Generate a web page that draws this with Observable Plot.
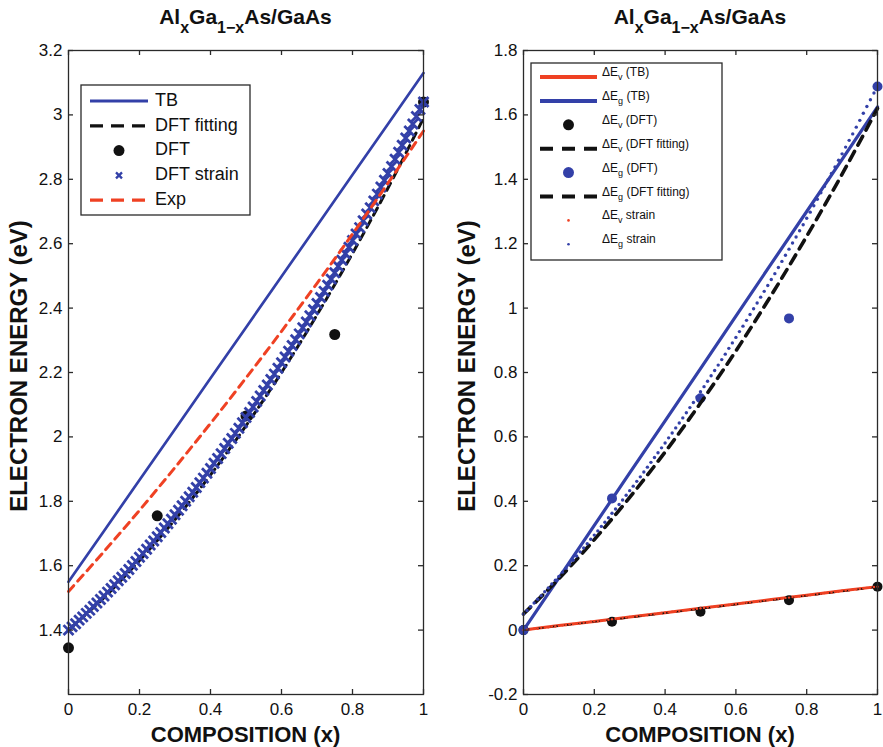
<!DOCTYPE html>
<html>
<head>
<meta charset="utf-8">
<script src="https://cdn.jsdelivr.net/npm/d3@7"></script>
<script src="https://cdn.jsdelivr.net/npm/@observablehq/plot@0.6"></script>
<style>
  body { margin: 0; background: #fff; }
  #wrap { display: flex; width: 883px; height: 747px; overflow: hidden; }
  svg { display: block; }
</style>
</head>
<body>
<div id="wrap"></div>
<script>
// ---------- composition grids ----------
const compCoarse = [0, 0.1, 0.2, 0.3, 0.4, 0.5, 0.6, 0.7, 0.8, 0.9, 1];
const compDFT = [0, 0.25, 0.5, 0.75, 1];
const compFine = d3.range(101).map(i => i / 100);

// ---------- left panel: band gap of AlxGa1-xAs (eV) ----------
const gapTB     = [1.550, 1.708, 1.866, 2.024, 2.182, 2.340, 2.498, 2.656, 2.814, 2.972, 3.130];
const gapDFTFit = [1.400, 1.501, 1.616, 1.743, 1.882, 2.035, 2.200, 2.379, 2.570, 2.773, 2.990];
const gapExp    = [1.520, 1.644, 1.772, 1.905, 2.042, 2.183, 2.328, 2.477, 2.630, 2.788, 2.950];
const gapDFT    = [1.345, 1.755, 2.065, 2.318, 3.040];
const gapStrain = [
  1.400, 1.410, 1.420, 1.431, 1.441, 1.452, 1.462, 1.473, 1.484, 1.495,
  1.506, 1.518, 1.529, 1.541, 1.553, 1.564, 1.576, 1.588, 1.601, 1.613,
  1.626, 1.638, 1.651, 1.664, 1.677, 1.690, 1.703, 1.717, 1.730, 1.744,
  1.758, 1.772, 1.786, 1.800, 1.814, 1.828, 1.843, 1.858, 1.872, 1.887,
  1.902, 1.918, 1.933, 1.948, 1.964, 1.980, 1.995, 2.011, 2.027, 2.044,
  2.060, 2.076, 2.093, 2.110, 2.127, 2.144, 2.161, 2.178, 2.195, 2.213,
  2.230, 2.248, 2.266, 2.284, 2.302, 2.320, 2.339, 2.357, 2.376, 2.395,
  2.414, 2.433, 2.452, 2.471, 2.490, 2.510, 2.530, 2.549, 2.569, 2.589,
  2.610, 2.630, 2.650, 2.671, 2.692, 2.712, 2.733, 2.754, 2.776, 2.797,
  2.818, 2.840, 2.862, 2.884, 2.906, 2.928, 2.950, 2.972, 2.995, 3.017,
  3.040
];

// ---------- right panel: band offsets (eV) ----------
const dEvTB  = [0, 0.014, 0.027, 0.041, 0.054, 0.068, 0.081, 0.095, 0.108, 0.122, 0.135];
const dEgTB  = [0, 0.162, 0.325, 0.488, 0.650, 0.812, 0.975, 1.138, 1.300, 1.462, 1.625];
const dEvFit = [0, 0.013, 0.026, 0.039, 0.053, 0.066, 0.080, 0.093, 0.107, 0.120, 0.134];
const dEgFit = [0.050, 0.160, 0.281, 0.412, 0.553, 0.705, 0.867, 1.040, 1.223, 1.416, 1.620];
const dEvDFT = [0, 0.026, 0.057, 0.093, 0.135];
const dEgDFT = [0, 0.409, 0.720, 0.968, 1.688];
const dEvStrain = [
  0.000, 0.001, 0.003, 0.004, 0.005, 0.007, 0.008, 0.009, 0.011, 0.012,
  0.014, 0.015, 0.016, 0.018, 0.019, 0.020, 0.022, 0.023, 0.024, 0.026,
  0.027, 0.028, 0.030, 0.031, 0.032, 0.034, 0.035, 0.036, 0.038, 0.039,
  0.041, 0.042, 0.043, 0.045, 0.046, 0.047, 0.049, 0.050, 0.051, 0.053,
  0.054, 0.055, 0.057, 0.058, 0.059, 0.061, 0.062, 0.063, 0.065, 0.066,
  0.068, 0.069, 0.070, 0.072, 0.073, 0.074, 0.076, 0.077, 0.078, 0.080,
  0.081, 0.082, 0.084, 0.085, 0.086, 0.088, 0.089, 0.090, 0.092, 0.093,
  0.095, 0.096, 0.097, 0.099, 0.100, 0.101, 0.103, 0.104, 0.105, 0.107,
  0.108, 0.109, 0.111, 0.112, 0.113, 0.115, 0.116, 0.117, 0.119, 0.120,
  0.122, 0.123, 0.124, 0.126, 0.127, 0.128, 0.130, 0.131, 0.132, 0.134,
  0.135
];
const dEgStrain = [
  0.050, 0.061, 0.073, 0.084, 0.096, 0.107, 0.119, 0.131, 0.143, 0.155,
  0.167, 0.180, 0.192, 0.204, 0.217, 0.230, 0.243, 0.255, 0.268, 0.282,
  0.295, 0.308, 0.322, 0.335, 0.349, 0.363, 0.376, 0.390, 0.404, 0.419,
  0.433, 0.447, 0.462, 0.476, 0.491, 0.506, 0.521, 0.536, 0.551, 0.566,
  0.581, 0.597, 0.612, 0.628, 0.643, 0.659, 0.675, 0.691, 0.707, 0.724,
  0.740, 0.756, 0.773, 0.790, 0.806, 0.823, 0.840, 0.857, 0.875, 0.892,
  0.909, 0.927, 0.944, 0.962, 0.980, 0.998, 1.016, 1.034, 1.052, 1.070,
  1.089, 1.107, 1.126, 1.145, 1.164, 1.183, 1.202, 1.221, 1.240, 1.259,
  1.279, 1.298, 1.318, 1.338, 1.358, 1.378, 1.398, 1.418, 1.438, 1.459,
  1.479, 1.500, 1.521, 1.541, 1.562, 1.583, 1.605, 1.626, 1.647, 1.668,
  1.690
];

// ---------- ticks ----------
const ticksX      = [0, 0.2, 0.4, 0.6, 0.8, 1];
const ticksYLeft  = [1.4, 1.6, 1.8, 2, 2.2, 2.4, 2.6, 2.8, 3, 3.2];
const ticksYRight = [-0.2, 0, 0.2, 0.4, 0.6, 0.8, 1, 1.2, 1.4, 1.6, 1.8];

// ---------- styling ----------
const BLUE = "#3340a8";
const RED = "#ef4123";
const BLACK = "#111";
const AXIS = "#2a2a2a";
const FONT = "'Liberation Sans', Arial, Helvetica, sans-serif";
const HEIGHT = 747, M_TOP = 50, M_BOTTOM = 53, TICK = 5;
const fmt = d => String(+d.toFixed(1));

const coarseRows = col => compCoarse.map((x, i) => ({x, y: col[i]}));
const zip = (xs, ys) => xs.map((x, i) => ({x, y: ys[i]}));

// boxed axes with short inward ticks on all four sides
function axes(yTicks, innerW) {
  const innerH = HEIGHT - M_TOP - M_BOTTOM;
  return [
    Plot.axisX(ticksX, {anchor: "bottom", tickSize: 0, tickPadding: 8, tickFormat: fmt, label: null, fontSize: 17}),
    Plot.axisY(yTicks, {anchor: "left", tickSize: 0, tickPadding: 6, tickFormat: fmt, label: null, fontSize: 17}),
    Plot.tickX(ticksX, {x: d => d, insetTop: innerH - TICK, stroke: AXIS, strokeWidth: 1.3}),
    Plot.tickX(ticksX, {x: d => d, insetBottom: innerH - TICK, stroke: AXIS, strokeWidth: 1.3}),
    Plot.tickY(yTicks, {y: d => d, insetRight: innerW - TICK, stroke: AXIS, strokeWidth: 1.3}),
    Plot.tickY(yTicks, {y: d => d, insetLeft: innerW - TICK, stroke: AXIS, strokeWidth: 1.3}),
    Plot.frame({stroke: AXIS, strokeWidth: 1.3})
  ];
}

function makePanel({width, marginLeft, marginRight, yDomain, yTicks, marks}) {
  return Plot.plot({
    width, height: HEIGHT,
    marginTop: M_TOP, marginBottom: M_BOTTOM, marginLeft, marginRight,
    x: {domain: [0, 1]},
    y: {domain: yDomain},
    style: {fontFamily: FONT, fontSize: "17px", color: "#111", background: "#fff", overflow: "visible"},
    marks: [...marks, ...axes(yTicks, width - marginLeft - marginRight)]
  });
}

// title with subscripts, axis labels
function decorate(svg, cx, cy, ylabelX) {
  const s = d3.select(svg);
  const t = s.append("text").attr("x", cx).attr("y", 24).attr("text-anchor", "middle")
    .attr("font-family", FONT).attr("font-weight", "bold").attr("font-size", 21).attr("fill", "#111");
  t.append("tspan").text("Al");
  t.append("tspan").attr("dy", 9).attr("font-size", 16).text("x");
  t.append("tspan").attr("dy", -9).text("Ga");
  t.append("tspan").attr("dy", 9).attr("font-size", 16).text("1\u2212x");
  t.append("tspan").attr("dy", -9).text("As/GaAs");
  s.append("text").attr("x", cx).attr("y", 742).attr("text-anchor", "middle")
    .attr("font-family", FONT).attr("font-weight", "bold").attr("font-size", 22).attr("fill", "#111")
    .text("COMPOSITION (x)");
  s.append("text").attr("transform", `translate(${ylabelX},${cy}) rotate(-90)`)
    .attr("text-anchor", "middle").attr("dominant-baseline", "middle")
    .attr("font-family", FONT).attr("font-weight", "bold").attr("font-size", 24).attr("fill", "#111")
    .text("ELECTRON ENERGY (eV)");
}

// ---------- left panel ----------
const left = makePanel({
  width: 441, marginLeft: 68, marginRight: 18,
  yDomain: [1.2, 3.2], yTicks: ticksYLeft,
  marks: [
    Plot.line(coarseRows(gapTB), {x: "x", y: "y", stroke: BLUE, strokeWidth: 2.7}),
    Plot.line(coarseRows(gapDFTFit), {x: "x", y: "y", stroke: BLACK, strokeWidth: 3, strokeDasharray: "8,6", curve: "catmull-rom"}),
    Plot.dot(zip(compDFT, gapDFT), {x: "x", y: "y", r: 5.5, fill: BLACK}),
    Plot.dot(zip(compFine, gapStrain), {x: "x", y: "y", symbol: "times", r: 4.6, stroke: BLUE, strokeWidth: 2.8}),
    Plot.line(coarseRows(gapExp), {x: "x", y: "y", stroke: RED, strokeWidth: 3, strokeDasharray: "8,6", curve: "catmull-rom"})
  ]
});
decorate(left, (68 + 423) / 2, 366, 21);

// legend, left panel
{
  const g = d3.select(left).append("g").attr("font-family", FONT).attr("font-size", 18)
    .attr("fill", "#111").attr("text-anchor", "start");
  g.append("rect").attr("x", 81).attr("y", 85).attr("width", 169).attr("height", 130)
    .attr("fill", "#fff").attr("stroke", AXIS).attr("stroke-width", 1.3);
  const items = [
    {label: "TB", kind: "line", color: BLUE, dash: null},
    {label: "DFT fitting", kind: "line", color: BLACK, dash: "13,8"},
    {label: "DFT", kind: "dot", color: BLACK},
    {label: "DFT strain", kind: "times", color: BLUE},
    {label: "Exp", kind: "line", color: RED, dash: "13,8"}
  ];
  items.forEach((it, i) => {
    const y = 101 + i * 24.8;
    if (it.kind === "line") {
      g.append("line").attr("x1", 90).attr("x2", 148).attr("y1", y).attr("y2", y)
        .attr("stroke", it.color).attr("stroke-width", 3.2).attr("stroke-dasharray", it.dash);
    } else if (it.kind === "dot") {
      g.append("circle").attr("cx", 119).attr("cy", y).attr("r", 5.5).attr("fill", it.color);
    } else {
      g.append("path").attr("d", `M116,${y - 3}L122,${y + 3}M116,${y + 3}L122,${y - 3}`)
        .attr("stroke", it.color).attr("stroke-width", 2.3).attr("fill", "none");
    }
    g.append("text").attr("x", 155).attr("y", y).attr("dominant-baseline", "middle").text(it.label);
  });
}

// ---------- right panel ----------
const right = makePanel({
  width: 442, marginLeft: 82, marginRight: 6,
  yDomain: [-0.2, 1.8], yTicks: ticksYRight,
  marks: [
    Plot.line(coarseRows(dEvTB), {x: "x", y: "y", stroke: RED, strokeWidth: 3}),
    Plot.line(coarseRows(dEgTB), {x: "x", y: "y", stroke: BLUE, strokeWidth: 3.2}),
    Plot.dot(zip(compDFT, dEvDFT), {x: "x", y: "y", r: 5, fill: BLACK}),
    Plot.line(coarseRows(dEvFit), {x: "x", y: "y", stroke: BLACK, strokeWidth: 1.6, strokeDasharray: "6,8"}),
    Plot.dot(zip(compDFT, dEgDFT), {x: "x", y: "y", r: 5, fill: BLUE}),
    Plot.line(coarseRows(dEgFit), {x: "x", y: "y", stroke: BLACK, strokeWidth: 3.6, strokeDasharray: "10,7", curve: "catmull-rom"}),
    Plot.dot(zip(compFine, dEvStrain), {x: "x", y: "y", r: 1.2, fill: RED}),
    Plot.dot(zip(compFine, dEgStrain), {x: "x", y: "y", r: 1.7, fill: BLUE})
  ]
});
decorate(right, (523 + 877) / 2 - 441, 366, 28);

// legend, right panel
{
  const g = d3.select(right).append("g").attr("font-family", FONT).attr("font-size", 12)
    .attr("fill", "#111").attr("text-anchor", "start");
  g.append("rect").attr("x", 90).attr("y", 63).attr("width", 191).attr("height", 197)
    .attr("fill", "#fff").attr("stroke", AXIS).attr("stroke-width", 1.3);
  const items = [
    {sub: "v", rest: " (TB)", kind: "line", color: RED, dash: null},
    {sub: "g", rest: " (TB)", kind: "line", color: BLUE, dash: null},
    {sub: "v", rest: " (DFT)", kind: "dot", color: BLACK, r: 5.5},
    {sub: "v", rest: " (DFT fitting)", kind: "line", color: BLACK, dash: "13,9"},
    {sub: "g", rest: " (DFT)", kind: "dot", color: BLUE, r: 5.5},
    {sub: "g", rest: " (DFT fitting)", kind: "line", color: BLACK, dash: "13,9"},
    {sub: "v", rest: " strain", kind: "dot", color: RED, r: 1.3},
    {sub: "g", rest: " strain", kind: "dot", color: BLUE, r: 1.3}
  ];
  items.forEach((it, i) => {
    const y = 77 + i * 23.9;
    if (it.kind === "line") {
      g.append("line").attr("x1", 99).attr("x2", 156).attr("y1", y).attr("y2", y)
        .attr("stroke", it.color).attr("stroke-width", 4).attr("stroke-dasharray", it.dash);
    } else {
      g.append("circle").attr("cx", 127.5).attr("cy", y).attr("r", it.r).attr("fill", it.color);
    }
    const t = g.append("text").attr("x", 161).attr("y", y - 1);
    t.append("tspan").text("\u0394E");
    t.append("tspan").attr("dy", 4).attr("font-size", 9).text(it.sub);
    t.append("tspan").attr("dy", -4).text(it.rest);
  });
}

document.getElementById("wrap").append(left, right);
</script>
</body>
</html>
